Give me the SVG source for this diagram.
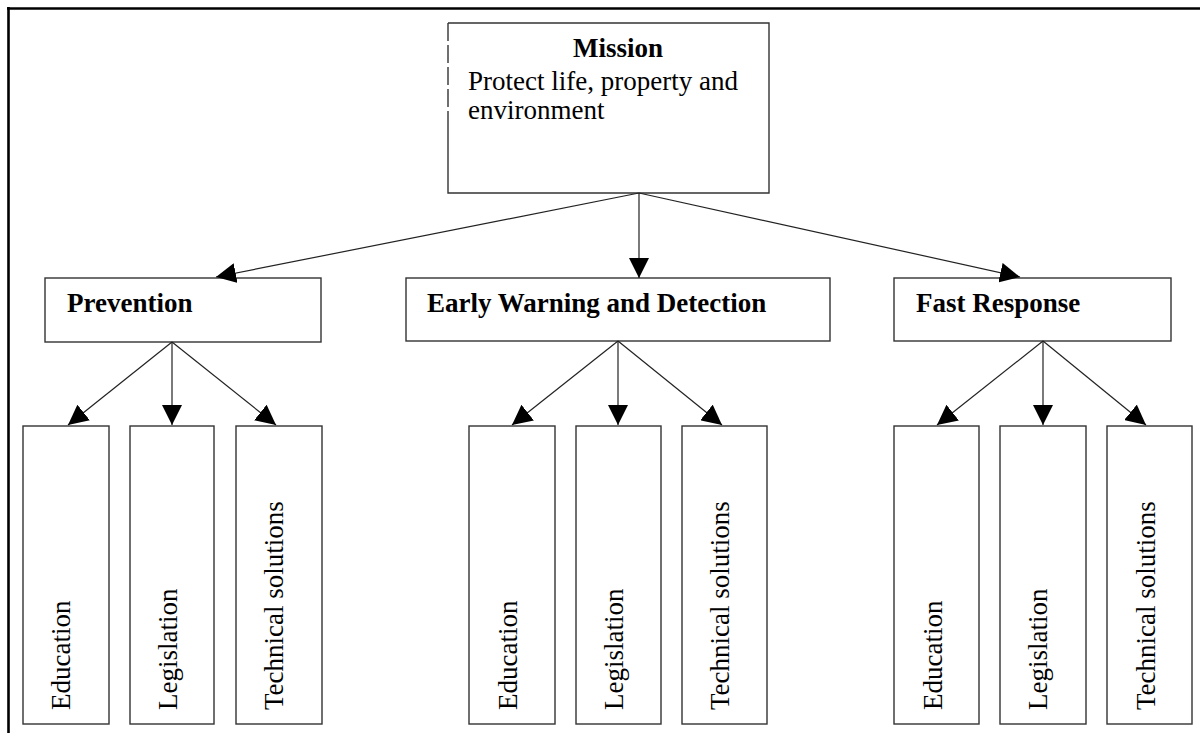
<svg xmlns="http://www.w3.org/2000/svg" width="1200" height="733" viewBox="0 0 1200 733">
<style>
.box{fill:#fff;stroke:#333;stroke-width:1.4}
.t{font-family:"Liberation Serif","Times New Roman",serif;font-size:27px;fill:#000}
.b{font-weight:bold}
.con line{stroke:#222;stroke-width:1.2;marker-end:url(#ah)}
</style>
<defs>
<marker id="ah" markerUnits="userSpaceOnUse" markerWidth="20" markerHeight="20" viewBox="0 0 20 20" refX="20" refY="10" orient="auto">
<path d="M0,0 L20,10 L0,20 z" fill="#000"/>
</marker>
</defs>
<rect width="1200" height="733" fill="#fff"/>
<g id="frame">
<line x1="7" y1="8.5" x2="1200" y2="8.5" stroke="#000" stroke-width="2.6"/>
<line x1="8.5" y1="7" x2="8.5" y2="733" stroke="#000" stroke-width="2.6"/>
</g>
<g id="mission">
<path d="M448,125 L448,193 L769,193 L769,23 L448,23" fill="#fff" stroke="#333" stroke-width="1.4"/>
<line x1="448" y1="23" x2="448" y2="125" stroke="#333" stroke-width="1.4" stroke-dasharray="18 4"/>
<text class="t b" x="573" y="57">Mission</text>
<text class="t" x="468" y="90">Protect life, property and</text>
<text class="t" x="468" y="119">environment</text>
</g>
<g id="prevention">
<rect class="box" x="45" y="278" width="276" height="64"/>
<text class="t b" x="67" y="312">Prevention</text>
</g>
<g id="early-warning">
<rect class="box" x="406" y="278" width="424" height="63"/>
<text class="t b" x="427" y="312">Early Warning and Detection</text>
</g>
<g id="fast-response">
<rect class="box" x="894" y="278" width="277" height="63"/>
<text class="t b" x="916" y="312">Fast Response</text>
</g>
<g id="p-education"><rect class="box" x="23" y="426" width="86" height="298"/><text class="t" transform="translate(70,710) rotate(-90)">Education</text></g>
<g id="p-legislation"><rect class="box" x="130" y="426" width="84" height="298"/><text class="t" transform="translate(177,710) rotate(-90)">Legislation</text></g>
<g id="p-technical"><rect class="box" x="236" y="426" width="86" height="298"/><text class="t" transform="translate(283,710) rotate(-90)">Technical solutions</text></g>
<g id="e-education"><rect class="box" x="469" y="426" width="86" height="298"/><text class="t" transform="translate(517,710) rotate(-90)">Education</text></g>
<g id="e-legislation"><rect class="box" x="576" y="426" width="85" height="298"/><text class="t" transform="translate(623,710) rotate(-90)">Legislation</text></g>
<g id="e-technical"><rect class="box" x="682" y="426" width="85" height="298"/><text class="t" transform="translate(729,710) rotate(-90)">Technical solutions</text></g>
<g id="f-education"><rect class="box" x="894" y="426" width="85" height="298"/><text class="t" transform="translate(942,710) rotate(-90)">Education</text></g>
<g id="f-legislation"><rect class="box" x="1000" y="426" width="86" height="298"/><text class="t" transform="translate(1047,710) rotate(-90)">Legislation</text></g>
<g id="f-technical"><rect class="box" x="1107" y="426" width="85" height="298"/><text class="t" transform="translate(1155,710) rotate(-90)">Technical solutions</text></g>
<g id="connectors" class="con">
<line x1="639" y1="193" x2="216" y2="277"/>
<line x1="639" y1="193" x2="639" y2="278"/>
<line x1="639" y1="193" x2="1020" y2="277"/>
<line x1="172" y1="342" x2="68" y2="425"/>
<line x1="172" y1="342" x2="172" y2="425"/>
<line x1="172" y1="342" x2="276" y2="425"/>
<line x1="618" y1="341" x2="512" y2="425"/>
<line x1="618" y1="341" x2="618" y2="425"/>
<line x1="618" y1="341" x2="722" y2="425"/>
<line x1="1043" y1="341" x2="937" y2="425"/>
<line x1="1043" y1="341" x2="1043" y2="425"/>
<line x1="1043" y1="341" x2="1146" y2="425"/>
</g>
</svg>
